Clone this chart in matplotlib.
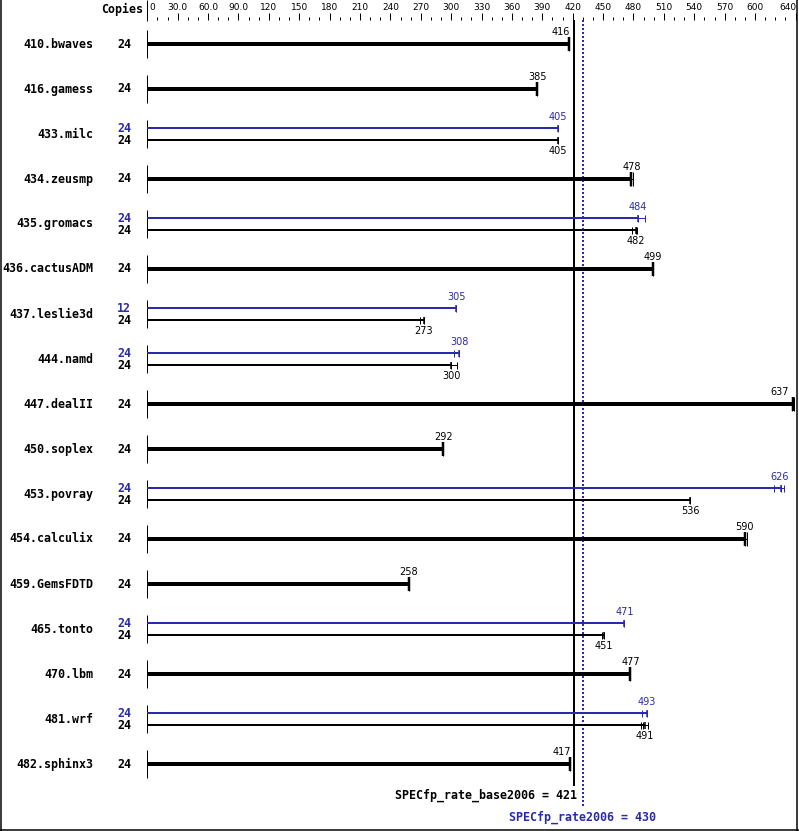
import numpy as np
import matplotlib
matplotlib.use("Agg")
import matplotlib.pyplot as plt

# benchmark data
names = ["410.bwaves", "416.gamess", "433.milc", "434.zeusmp", "435.gromacs",
         "436.cactusADM", "437.leslie3d", "444.namd", "447.dealII", "450.soplex",
         "453.povray", "454.calculix", "459.GemsFDTD", "465.tonto", "470.lbm",
         "481.wrf", "482.sphinx3"]
base_copies = [24, 24, 24, 24, 24, 24, 24, 24, 24, 24, 24, 24, 24, 24, 24, 24, 24]
peak_copies = [None, None, 24, None, 24, None, 12, 24, None, None, 24, None, None, 24, None, 24, None]
base = [416, 385, 405, 478, 482, 499, 273, 300, 637, 292, 536, 590, 258, 451, 477, 491, 417]
peak = [None, None, 405, None, 484, None, 305, 308, None, None, 626, None, None, 471, None, 493, None]
# individual run values (the little ticks at the bar ends)
base_runs = [[416], [385], [405], [477, 478, 480], [479, 482, 483], [499], [269, 273],
             [300, 306], [636, 638], [292], [536], [590, 592], [258], [449, 451], [477],
             [487, 489, 494], [417]]
peak_runs = [None, None, [405], None, [484, 491], None, [305], [303, 308], None, None,
             [619, 626, 629], None, None, [471], None, [488, 493], None]

base_score = 421
peak_score = 430

tick_major = [0, 30, 60, 90, 120, 150, 180, 210, 240, 270, 300, 330, 360, 390, 420,
              450, 480, 510, 540, 570, 600, 640]
tick_labels = ["0", "30.0", "60.0", "90.0", "120", "150", "180", "210", "240", "270",
               "300", "330", "360", "390", "420", "450", "480", "510", "540", "570",
               "600", "640"]
tick_minor = [v for v in range(10, 640, 10) if v not in tick_major]

BLUE = "#2a2aaa"
W, H = 799, 831
X0, SX = 147.3, 1.0129      # pixel of value 0, pixels per unit
Y0, SY = 44.0, 45.0         # pixel of first row, pixels per row
PT = 0.72                   # points per pixel at dpi 100

fig = plt.figure(figsize=(W / 100, H / 100), dpi=100)
ax = fig.add_axes([0, 0, 1, 1])
ax.set_xlim(-X0 / SX, (W - X0) / SX)
ax.set_ylim((H - Y0) / SY, -Y0 / SY)
ax.axis("off")


def dx(px):
    return px / SX


def dy(px):
    return px / SY


def ry(py):
    # absolute pixel row -> data y
    return (py - Y0) / SY


mono = dict(family="DejaVu Sans Mono", fontweight="bold", fontsize=8.4)
numf = dict(family="DejaVu Sans", fontsize=7)
tickf = dict(family="DejaVu Sans", fontsize=6.5)

# top scale
ax.vlines(0, ry(0), ry(21), color="black", lw=1 * PT)
ax.vlines([t for t in tick_major if t > 0], ry(13), ry(20), color="black", lw=1 * PT)
ax.vlines(tick_minor, ry(17), ry(20), color="black", lw=1 * PT)
for t, lab in zip(tick_major, tick_labels):
    if t == 0:
        ax.text(dx(2), ry(7.5), lab, ha="left", va="center", **tickf)
    elif t == tick_major[-1]:
        ax.text((W - 3 - X0) / SX, ry(7.5), lab, ha="right", va="center", **tickf)
    else:
        ax.text(t, ry(7.5), lab, ha="center", va="center", **tickf)
ax.text(-dx(4), ry(9), "Copies", ha="right", va="center", **mono)

# reference lines
ax.vlines(base_score, ry(20), ry(786), color="black", lw=2 * PT)
ax.vlines(peak_score, ry(20), ry(807), color=BLUE, lw=2 * PT, linestyles=(0, (1, 1)))

xmax_px = 789


def value_label(v, y, color):
    xc = X0 + v * SX
    half = 9
    base_px = X0 + base_score * SX
    if xc + half > xmax_px:
        ax.text((xmax_px - X0) / SX, y, str(v), ha="right", va="center", color=color, **numf)
    elif abs(xc - base_px) < half + 3 and xc < base_px:
        ax.text(v + dx(1), y, str(v), ha="right", va="center", color=color, **numf)
    else:
        ax.text(v, y, str(v), ha="center", va="center", color=color, **numf)


def runs(vals, y, half, color):
    # thin range line between the runs plus one tick per run
    ax.hlines(y, min(vals), max(vals), color=color, lw=1 * PT)
    ax.vlines(vals, y - dy(half), y + dy(half), color=color, lw=1 * PT)


for i, name in enumerate(names):
    ax.text(-dx(54), i, name, ha="right", va="center", **mono)
    ax.vlines(0, i - dy(14), i + dy(14), color="black", lw=1 * PT)
    if peak[i] is None:
        ax.text(-dx(16), i, str(base_copies[i]), ha="right", va="center", **mono)
        ax.hlines(i, 0, base[i], color="black", lw=4 * PT)
        runs(base_runs[i], i, 7, "black")
        ax.vlines(base[i], i - dy(7), i + dy(7), color="black", lw=2.5 * PT)
        value_label(base[i], i - dy(12), "black")
    else:
        yp, yb = i - dy(6), i + dy(6)
        ax.text(-dx(16), yp, str(peak_copies[i]), ha="right", va="center", color=BLUE, **mono)
        ax.text(-dx(16), yb, str(base_copies[i]), ha="right", va="center", **mono)
        ax.hlines(yp, 0, peak[i], color=BLUE, lw=2 * PT)
        ax.hlines(yb, 0, base[i], color="black", lw=2 * PT)
        runs(peak_runs[i], yp, 3.5, BLUE)
        runs(base_runs[i], yb, 3.5, "black")
        ax.vlines(peak[i], yp - dy(3.5), yp + dy(3.5), color=BLUE, lw=1.5 * PT)
        ax.vlines(base[i], yb - dy(3.5), yb + dy(3.5), color="black", lw=1.5 * PT)
        value_label(peak[i], yp - dy(11), BLUE)
        value_label(base[i], yb + dy(11), "black")

# summary texts
ax.text(base_score + dx(3), ry(795), "SPECfp_rate_base2006 = %d" % base_score,
        ha="right", va="center", **mono)
ax.text(peak_score, ry(817), "SPECfp_rate2006 = %d" % peak_score,
        ha="center", va="center", color=BLUE, **mono)

# frame
ax.vlines(-X0 / SX + dx(0.5), ry(0), ry(H), color="black", lw=1.5 * PT)
ax.vlines((W - 2.5 - X0) / SX, ry(0), ry(H), color="black", lw=1.5 * PT)
ax.hlines(ry(H - 1.2), -X0 / SX, (W - X0) / SX, color="black", lw=1.5 * PT)

fig.savefig("out.png", dpi=100)
